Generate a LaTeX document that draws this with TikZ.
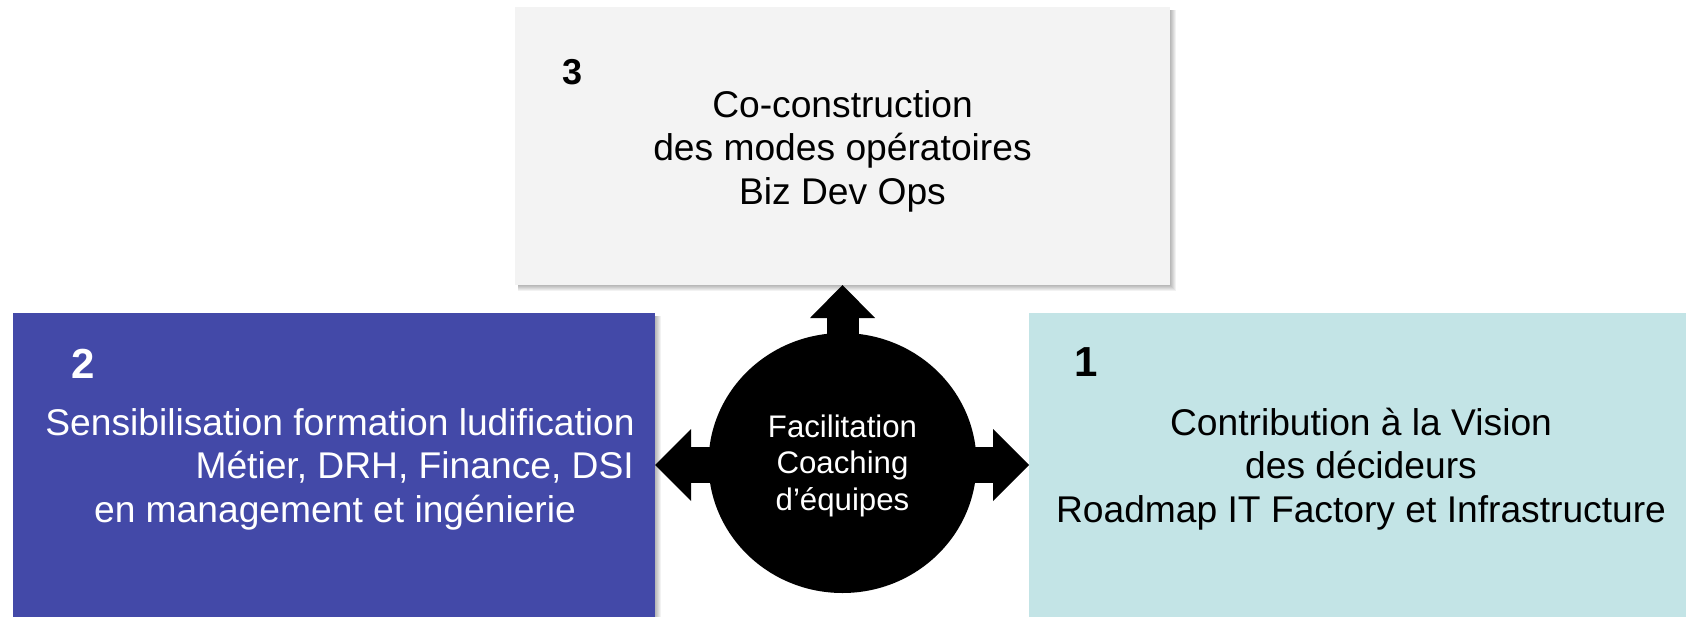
\documentclass[tikz,border=0pt]{standalone}
\usepackage{fontspec}
\setmainfont{Liberation Sans}
\usetikzlibrary{arrows.meta,calc,backgrounds,shapes.geometric}
\definecolor{topfill}{RGB}{243,243,243}
\definecolor{leftfill}{RGB}{67,73,168}
\definecolor{rightfill}{RGB}{195,228,230}
\newcommand\boxshadow[1]{%
  \foreach \k in {1,...,6}{%
    \fill[black,opacity=0.05] ([xshift=3pt,yshift=-3pt]#1.north west) rectangle ([xshift=\k pt,yshift=-\k pt]#1.south east);}}
\begin{document}
\begin{tikzpicture}[x=1pt,y=-1pt,
  box/.style={rectangle, inner sep=0pt, outer sep=0pt, draw=none},
  txt/.style={inner sep=0pt, anchor=base, font=\fontsize{37.2}{44}\selectfont},
  num/.style={inner sep=0pt, anchor=base, font=\fontsize{42}{48}\selectfont\bfseries},
  hubtxt/.style={inner sep=0pt, anchor=base, text=white, font=\fontsize{31.2}{37}\selectfont},
  varrow/.style={line width=32pt, -{Triangle[length=33pt,width=65pt,line width=0pt]}},
  harrow/.style={line width=36pt, -{Triangle[length=36pt,width=72pt,line width=0pt]}}]
\clip (0,0) rectangle (1686,616);
% boxes
\node[box, fill=topfill, minimum width=655pt, minimum height=278pt] (top) at (842.5,146) {};
\node[box, fill=leftfill, minimum width=642pt, minimum height=340pt] (left) at (334,483) {};
\node[box, fill=rightfill, minimum width=680pt, minimum height=340pt] (right) at (1369,483) {};
\begin{pgfonlayer}{background}
  \fill[white] (0,0) rectangle (1686,616);
  \boxshadow{top}
  \boxshadow{left}
  \boxshadow{right}
\end{pgfonlayer}
% hub
\node[ellipse, fill=black, inner sep=0pt, minimum width=268pt, minimum height=260pt] (hub) at (842.5,463) {};
\coordinate (hubmid) at (842.5,465);
\draw[varrow] (hub.center) -- (top.south);
\draw[harrow] (hubmid) -- (hubmid -| left.east);
\draw[harrow] (hubmid) -- (hubmid -| right.west);
\node[hubtxt] (h1) at (842.5,437) {Facilitation};
\node[hubtxt] (h2) at (842.5,473) {Coaching};
\node[hubtxt] (h3) at (842.5,510) {d’équipes};
% top box text
\node[num, font=\fontsize{36}{44}\selectfont\bfseries] (n3) at (573,84) {3};
\node[txt] (t3a) at (842.5,117) {Co-construction};
\node[txt] (t3b) at (842.5,160.5) {des modes opératoires};
\node[txt] (t3c) at (842.5,204) {Biz Dev Ops};
% left box text
\node[num, text=white] (n2) at (83.5,378) {2};
\node[txt, text=white] (t2a) at (340,435) {Sensibilisation formation ludification};
\node[txt, text=white, anchor=base east] (t2b) at (634,478.5) {Métier, DRH, Finance, DSI};
\node[txt, text=white] (t2c) at (335,522) {en management et ingénierie};
% right box text
\node[num] (n1) at (1086.5,376) {1};
\node[txt] (t1a) at (1361,435) {Contribution à la Vision};
\node[txt] (t1b) at (1361,478.5) {des décideurs};
\node[txt] (t1c) at (1361,522) {Roadmap IT Factory et Infrastructure};
\end{tikzpicture}
\end{document}
